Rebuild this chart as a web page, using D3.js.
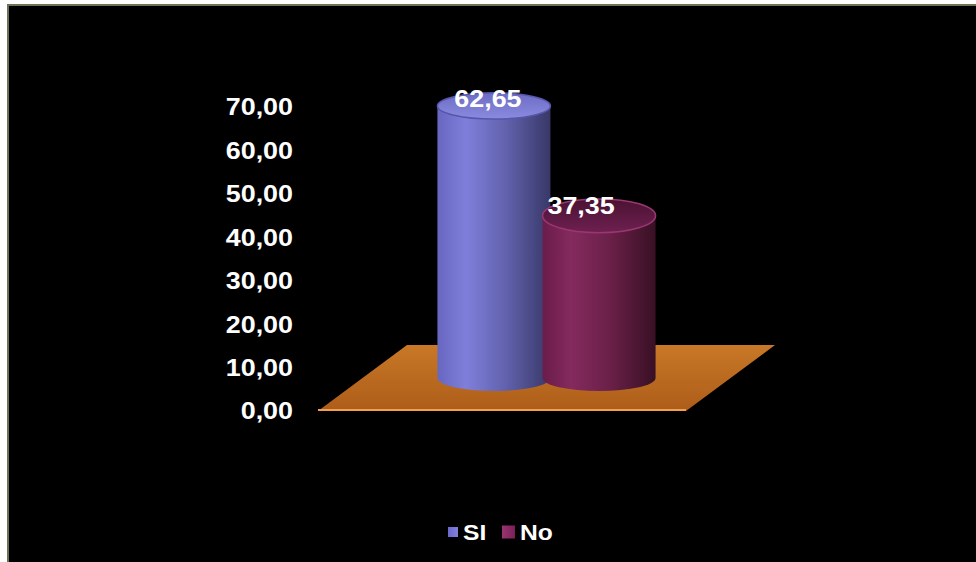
<!DOCTYPE html>
<html>
<head>
<meta charset="utf-8">
<script src="https://cdn.jsdelivr.net/npm/d3@7"></script>
<style>
  body { margin: 0; background: #fff; }
  svg { display: block; }
  text { font-family: "Liberation Sans", Arial, sans-serif; font-weight: bold; fill: #fff; }
</style>
</head>
<body>
<div id="chart"></div>
<script>
// data
const categories = ["SI", "No"];
const values = [62.65, 37.35];
const valueLabels = ["62,65", "37,35"];
const tickValues = [0, 10, 20, 30, 40, 50, 60, 70];
const tickLabels = ["0,00", "10,00", "20,00", "30,00", "40,00", "50,00", "60,00", "70,00"];

const W = 976, H = 562;

const svg = d3.select("#chart").append("svg")
  .attr("width", W)
  .attr("height", H);

// frame
svg.append("rect").attr("x", 0).attr("y", 0).attr("width", W).attr("height", H).attr("fill", "#fff");
svg.append("rect").attr("x", 7).attr("y", 4).attr("width", W - 7).attr("height", H - 4).attr("fill", "#6f7256");
svg.append("rect").attr("x", 9).attr("y", 6).attr("width", W - 9).attr("height", H - 6).attr("fill", "#000");

const defs = svg.append("defs");

function hGrad(id, stops) {
  const g = defs.append("linearGradient").attr("id", id)
    .attr("x1", "0%").attr("x2", "100%").attr("y1", "0%").attr("y2", "0%");
  stops.forEach(s => g.append("stop").attr("offset", s[0]).attr("stop-color", s[1]));
}
function vGrad(id, stops) {
  const g = defs.append("linearGradient").attr("id", id)
    .attr("x1", "0%").attr("x2", "0%").attr("y1", "0%").attr("y2", "100%");
  stops.forEach(s => g.append("stop").attr("offset", s[0]).attr("stop-color", s[1]));
}

hGrad("body0", [["0%", "#6767c0"], ["25%", "#7f7fdb"], ["60%", "#6262ae"], ["100%", "#383868"]]);
hGrad("body1", [["0%", "#6a1c4a"], ["25%", "#842a5e"], ["60%", "#6a2048"], ["100%", "#381024"]]);
vGrad("top0", [["0%", "#6c6cc4"], ["100%", "#8a8ae0"]]);
vGrad("top1", [["0%", "#4a1232"], ["100%", "#6e2050"]]);
vGrad("floor", [["0%", "#c87826"], ["100%", "#ad5d19"]]);
hGrad("leg0", [["0%", "#6a6acc"], ["100%", "#8080e0"]]);
hGrad("leg1", [["0%", "#9a3470"], ["100%", "#7a2058"]]);

const colors = {
  body: ["url(#body0)", "url(#body1)"],
  top: ["url(#top0)", "url(#top1)"],
  rim: ["#5656aa", "#9a3672"],
  legend: ["url(#leg0)", "url(#leg1)"]
};

// scales
const y = d3.scaleLinear().domain([0, 70]).range([411, 107]);

const floorLeft = 318, floorRight = 686;
const depthX = 89, depthY = 66;

const x = d3.scalePoint()
  .domain(categories)
  .range([floorLeft + depthX / 2, floorRight + depthX / 2])
  .padding(1.25);

// y axis labels (stretched like the original)
const axisG = svg.append("g");
tickValues.forEach((t, i) => {
  axisG.append("text")
    .attr("transform", `translate(293,${y(t)}) scale(1.12,1)`)
    .attr("text-anchor", "end")
    .attr("dy", "0.35em")
    .attr("font-size", "24px")
    .text(tickLabels[i]);
});

// floor
const y0 = y(0);
svg.append("path")
  .attr("d", `M${floorLeft},${y0} L${floorRight},${y0} L${floorRight + depthX},${y0 - depthY} L${floorLeft + depthX},${y0 - depthY} Z`)
  .attr("fill", "url(#floor)");
svg.append("line")
  .attr("x1", floorLeft).attr("x2", floorRight)
  .attr("y1", y0 - 1).attr("y2", y0 - 1)
  .attr("stroke", "#f0a050").attr("stroke-width", 2);

// cylinders
const rx = 56.5, ryBase = 13;
const baseOffset = depthY / 2;
// ellipses open up a little lower in the view
const ryAt = yy => 13 + Math.max(0, yy - 104) * 0.035;

categories.forEach((c, i) => {
  const cx = x(c);
  const base = y(0) - baseOffset;
  const top = y(values[i]) - baseOffset;
  const ryTop = ryAt(top);
  const g = svg.append("g");
  g.append("path")
    .attr("d", `M${cx - rx},${top} L${cx - rx},${base} A${rx},${ryBase} 0 0 0 ${cx + rx},${base} L${cx + rx},${top} Z`)
    .attr("fill", colors.body[i]);
  g.append("ellipse")
    .attr("cx", cx).attr("cy", top)
    .attr("rx", rx).attr("ry", ryTop)
    .attr("fill", colors.top[i])
    .attr("stroke", colors.rim[i])
    .attr("stroke-width", 1.5);
});

// value labels
const labelDx = [-6, -18];
categories.forEach((c, i) => {
  const top = y(values[i]) - baseOffset;
  svg.append("text")
    .attr("transform", `translate(${x(c) + labelDx[i]},${top + 1 - i * 3}) scale(1.12,1)`)
    .attr("text-anchor", "middle")
    .attr("font-size", "24px")
    .text(valueLabels[i]);
});

// legend
const legendX = [448, 502];
const legendSize = [10, 13];
categories.forEach((c, i) => {
  const s = legendSize[i];
  svg.append("rect")
    .attr("x", legendX[i]).attr("y", 532 - s / 2)
    .attr("width", s).attr("height", s)
    .attr("fill", colors.legend[i]);
  svg.append("text")
    .attr("transform", `translate(${legendX[i] + s + 5},532) scale(1.12,1)`)
    .attr("dy", "0.35em")
    .attr("font-size", "22px")
    .text(c);
});
</script>
</body>
</html>
